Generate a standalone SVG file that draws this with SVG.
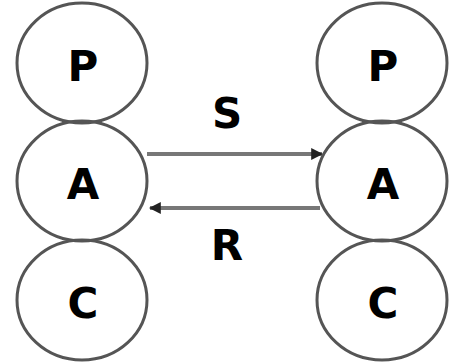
<svg xmlns="http://www.w3.org/2000/svg" width="451" height="362" viewBox="0 0 451 362">
<defs>
<style>
.n{fill:none;stroke:#555;stroke-width:3}
.t{font-family:"DejaVu Sans",sans-serif;font-weight:bold;font-size:42px;fill:#000;text-anchor:middle;dominant-baseline:central}
.c{stroke:#777;stroke-width:4;fill:none}
</style>
<marker id="ah" viewBox="0 0 10 10" refX="9" refY="5" markerWidth="3" markerHeight="3" orient="auto" markerUnits="strokeWidth">
<path d="M0,0 L10,5 L0,10 z" fill="#222"/>
</marker>
</defs>
<rect width="451" height="362" fill="#fff"/>
<g id="connectors">
<line class="c" x1="147" y1="154" x2="322" y2="154" marker-end="url(#ah)"/>
<line class="c" x1="320" y1="208" x2="150" y2="208" marker-end="url(#ah)"/>
<text class="t" x="227" y="113">S</text>
<text class="t" x="227" y="245">R</text>
</g>
<g id="lP"><ellipse class="n" cx="82" cy="63" rx="65" ry="60"/><text class="t" x="83" y="66">P</text></g>
<g id="lA"><ellipse class="n" cx="82" cy="181" rx="65" ry="60"/><text class="t" x="83" y="184">A</text></g>
<g id="lC"><ellipse class="n" cx="82" cy="300" rx="65" ry="60"/><text class="t" x="83" y="303">C</text></g>
<g id="rP"><ellipse class="n" cx="382" cy="63" rx="65" ry="60"/><text class="t" x="383" y="66">P</text></g>
<g id="rA"><ellipse class="n" cx="382" cy="181" rx="65" ry="60"/><text class="t" x="383" y="184">A</text></g>
<g id="rC"><ellipse class="n" cx="382" cy="300" rx="65" ry="60"/><text class="t" x="383" y="303">C</text></g>
</svg>
